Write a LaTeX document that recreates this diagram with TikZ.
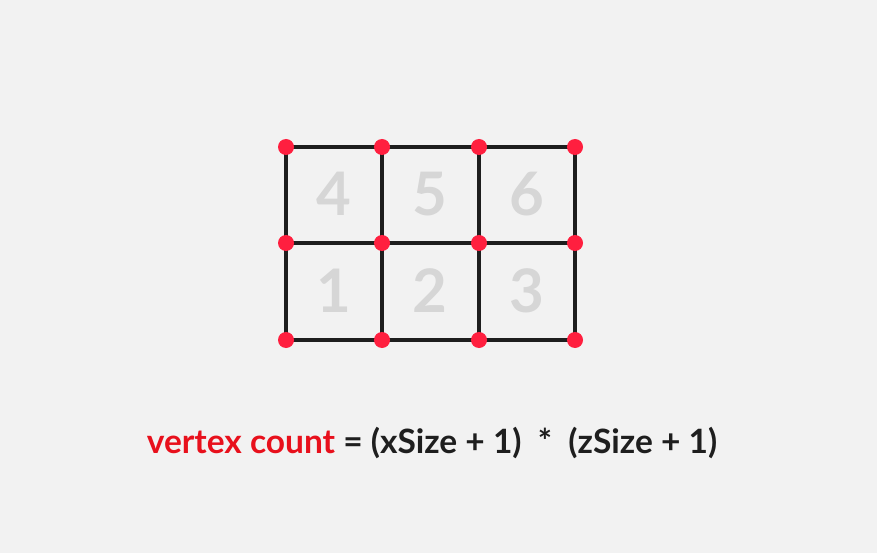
\documentclass[tikz,border=0pt]{standalone}
\usepackage{fontspec}
\setmainfont{Lato}
\usepackage{tikz}
\usetikzlibrary{calc,backgrounds}

\definecolor{bgcol}{HTML}{F2F2F2}
\definecolor{dotred}{HTML}{FF1F3F}
\definecolor{txtred}{HTML}{E8101C}
\definecolor{numgray}{HTML}{D6D6D6}
\definecolor{inkcol}{HTML}{1E1E1E}

\tikzset{
  gridline/.style={line width=4.5pt,draw=inkcol},
  vdot/.style={circle,fill=dotred,inner sep=0pt,minimum size=16pt},
  cellnum/.style={text=numgray,font=\fontsize{60}{60}\selectfont\bfseries},
}

\begin{document}
\begin{tikzpicture}[x=1pt,y=-1pt]
          \fill[bgcol] (0,0) rectangle (877,553);
          \useasboundingbox (0,0) rectangle (877,553);
          % cell numbers
          \foreach \n/\cx/\cy in {1/334/291,2/430/291,3/527/291,4/334/194,5/430/194,6/527/194}
            \node[cellnum] (c\n) at (\cx,\cy) {\n};
          % vertices
          \foreach \i/\vx in {0/286,1/382,2/479,3/575}
            \foreach \j/\vy in {0/340,1/243,2/147}
              \coordinate (v\i\j) at (\vx,\vy);
          % edges
          \foreach \j in {0,1,2}
            \draw[gridline] (v0\j) -- (v1\j) -- (v2\j) -- (v3\j);
          \foreach \i in {0,1,2,3}
            \draw[gridline] (v\i0) -- (v\i1) -- (v\i2);
          \foreach \i in {0,1,2,3}
            \foreach \j in {0,1,2}
              \node[vdot] (d\i\j) at (v\i\j) {};
          % formula
          \node[font=\fontsize{33.5}{36}\selectfont\bfseries,text=inkcol] (formula) at (432,443)
            {\textcolor{txtred}{vertex count} = (xSize + 1)\ \ *\ \ (zSize + 1)};
        \end{tikzpicture}
\end{document}
